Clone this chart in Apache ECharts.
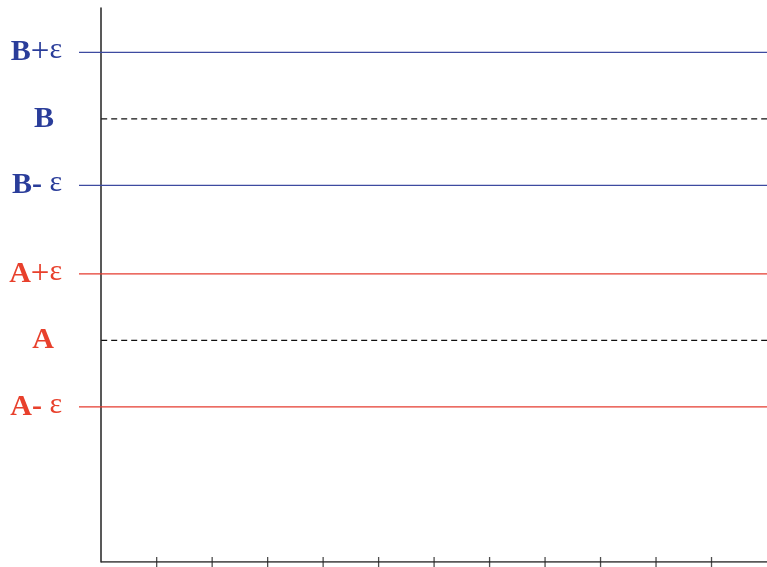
<!DOCTYPE html>
<html><head><meta charset="utf-8">
<script src="https://cdn.jsdelivr.net/npm/echarts@6/dist/echarts.min.js"></script>
<style>html,body{margin:0;padding:0;background:#fff}#c{width:767px;height:567px}</style>
</head><body><div id="c"></div>
<script>
// Levels (y values)
const A = 4, B = 8, EPS = 1.2;
const levelNames = ['A- ε', 'A', 'A+ε', 'B- ε', 'B', 'B+ε'];
const levelValues = [A - EPS, A, A + EPS, B - EPS, B, B + EPS];
const levelKinds = ['red', 'center', 'red', 'blue', 'center', 'blue'];
const levelGroup = ['r', 'r', 'r', 'b', 'b', 'b'];
const xTicks = [1, 2, 3, 4, 5, 6, 7, 8, 9, 10, 11];
const xMin = -0.4, xAxisStart = 0, xMax = 12, yMin = 0, yMax = 10;

const lineColors = { red: '#e53b2f', blue: '#3d4aa0', center: '#111' };

const series = levelValues.map((v, i) => {
  const kind = levelKinds[i];
  const solid = kind !== 'center';
  return {
    type: 'line', symbol: 'none', silent: true,
    data: [[solid ? xMin : xAxisStart, v], [xMax, v]],
    lineStyle: { color: lineColors[kind], width: 1.2, type: solid ? 'solid' : [6, 4] },
    z: 1
  };
});
// bottom axis line (x axis starts at the y axis)
series.push({
  type: 'line', symbol: 'none', silent: true,
  data: [[xAxisStart, yMin], [xMax, yMin]],
  lineStyle: { color: '#222', width: 1.5 }, z: 3
});
// crossing tick marks on the x axis
series.push({
  type: 'scatter', silent: true, clip: false,
  symbol: 'rect', symbolSize: [1.3, 10],
  data: xTicks.map(t => [t, yMin]),
  itemStyle: { color: '#222' }, z: 4
});

function fmt(v) {
  const i = levelValues.findIndex(x => Math.abs(x - v) < 1e-6);
  if (i < 0) return '';
  const name = levelNames[i];
  const c = levelGroup[i];
  if (name.length === 1) return '{' + c + 'L|' + name + '}{pad|}';
  const letter = name[0];
  const op = name[1];
  return '{' + c + 'L|' + letter + '}{' + c + (op === '-' ? 'M' : 'O') + '|' + op + '}{' + c + 'E|' + (op === '-' ? ' ' : '') + 'ε}';
}

const serif = 'Liberation Serif';
const rich = {};
[['r', '#e8402c'], ['b', '#2a3d9a']].forEach(([k, col]) => {
  rich[k + 'L'] = { fontFamily: serif, fontWeight: 'bold', fontSize: 30, color: col };
  rich[k + 'O'] = { fontFamily: serif, fontWeight: 'normal', fontSize: 33, color: col };
  rich[k + 'M'] = { fontFamily: serif, fontWeight: 'bold', fontSize: 30, color: col };
  rich[k + 'E'] = { fontFamily: serif, fontWeight: 'normal', fontSize: 30, color: col, padding: [0, 0, 4, 0] };
});
rich.pad = { width: 8 };

const chart = echarts.init(document.getElementById('c'), null, { renderer: 'canvas' });
chart.setOption({
  animation: false,
  backgroundColor: '#fff',
  grid: { left: 79, right: 0, top: 8, bottom: 5, containLabel: false, outerBoundsMode: 'none' },
  xAxis: { type: 'value', min: xMin, max: xMax, show: true,
      axisLine: { show: false, onZero: false },
      axisTick: { show: false },
      axisLabel: { show: false }, splitLine: { show: false } },
  yAxis: {
    type: 'value', min: yMin, max: yMax,
    axisLine: { show: true, onZero: true, lineStyle: { color: '#222', width: 1.5 } },
    axisTick: { show: false },
    splitLine: { show: false },
    axisLabel: { show: true, customValues: levelValues, margin: 17, formatter: fmt, rich: rich }
  },
  series: series
});
</script></body></html>
